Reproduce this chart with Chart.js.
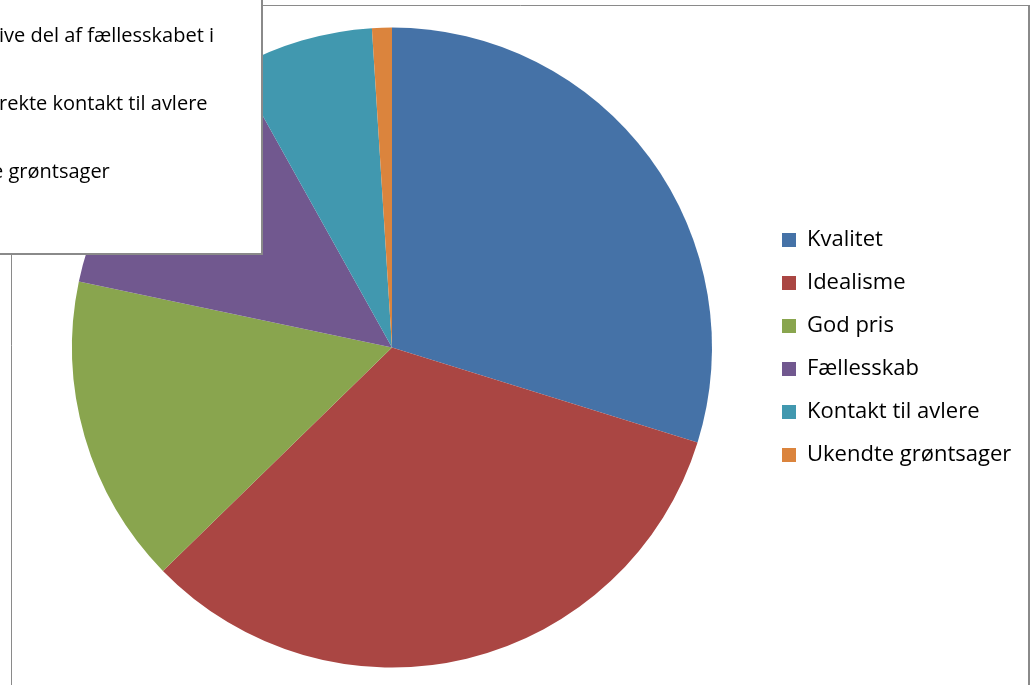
<!DOCTYPE html>
<html>
<head>
<meta charset="utf-8">
<script src="https://cdn.jsdelivr.net/npm/chart.js@4/dist/chart.umd.min.js"></script>
<style>
  html, body { margin: 0; padding: 0; background: #fff; overflow: hidden; }
  #wrap { position: relative; width: 1032px; height: 685px; }
</style>
</head>
<body>
<div id="wrap"><canvas id="chart" width="1032" height="685"></canvas></div>
<script>
const labels = ["Kvalitet", "Idealisme", "God pris", "Fællesskab", "Kontakt til avlere", "Ukendte grøntsager"];
const values = [29.8, 32.9, 15.6, 13.6, 7.1, 1.0];
const sliceColors = ["#4572A7", "#AA4643", "#89A54E", "#71588F", "#4198AF", "#DB843D"];
// clipped text of the box lying over the top-left corner
const noteLines = ["ive del af fællesskabet i", "rekte kontakt til avlere", "e grøntsager"];

const FONT = "'Open Sans', 'Noto Sans', sans-serif";

// fixed legend width so the pie sits where it does in the original
const legendWidth = {
    id: "legendWidth",
    beforeInit(chart) {
        const fit = chart.legend.fit;
        chart.legend.fit = function () {
            fit.bind(chart.legend)();
            this.width = 271;
        };
    }
};

// outer frame of the chart
const frame = {
    id: "frame",
    beforeDraw(chart) {
        const ctx = chart.ctx;
        ctx.save();
        ctx.strokeStyle = "#8a8a8a";
        ctx.lineWidth = 1;
        ctx.beginPath();
        ctx.moveTo(11.5, 700);
        ctx.lineTo(11.5, 5.5);
        ctx.lineTo(1029, 5.5);
        ctx.stroke();
        ctx.lineWidth = 2;
        ctx.beginPath();
        ctx.moveTo(1029, 5);
        ctx.lineTo(1029, 700);
        ctx.stroke();
        ctx.restore();
    }
};

// white text box on top of the chart
const noteBox = {
    id: "noteBox",
    afterDraw(chart) {
        const ctx = chart.ctx;
        ctx.save();
        ctx.fillStyle = "#fff";
        ctx.fillRect(0, 0, 262, 254);
        ctx.strokeStyle = "#8a8a8a";
        ctx.lineWidth = 2;
        ctx.strokeRect(-2, -2, 264, 256);
        ctx.beginPath();
        ctx.rect(0, 0, 261, 253);
        ctx.clip();
        ctx.fillStyle = "#000";
        ctx.font = "20px " + FONT;
        ctx.textBaseline = "alphabetic";
        const xs = [-1, -1, -8];
        const ys = [42, 110, 178];
        noteLines.forEach((t, i) => ctx.fillText(t, xs[i], ys[i]));
        ctx.restore();
    }
};

new Chart(document.getElementById("chart"), {
    type: "pie",
    data: {
        labels: labels,
        datasets: [{
            data: values,
            backgroundColor: sliceColors,
            borderWidth: 0,
            hoverBorderWidth: 0,
            hoverOffset: 0
        }]
    },
    options: {
        responsive: false,
        animation: false,
        devicePixelRatio: 1,
        events: [],
        layout: {
            padding: {left: 23, right: 0, top: 27.5, bottom: 17.5}
        },
        plugins: {
            legend: {
                position: "right",
                align: "center",
                labels: {
                    boxWidth: 14,
                    boxHeight: 14,
                    padding: 21,
                    color: "#000",
                    font: {family: FONT, size: 22}
                }
            },
            tooltip: {enabled: false}
        }
    },
    plugins: [legendWidth, frame, noteBox]
});
</script>
</body>
</html>
